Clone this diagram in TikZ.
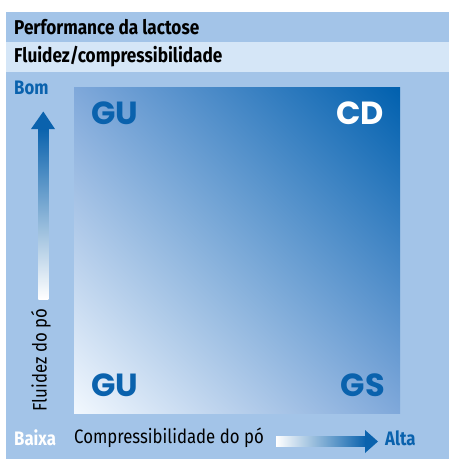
\documentclass[tikz,border=0pt]{standalone}
\usepackage{fontspec}
\setmainfont{Fira Sans}[FakeStretch=0.86]
\newfontfamily\heavyfont{Poppins}
\usepackage{xcolor}
\usepackage{tikz}
\usetikzlibrary{positioning,shadings}
\definecolor{bandblue}{HTML}{A3C4E8}
\definecolor{paleblue}{HTML}{D5E6F7}
\definecolor{inkblue}{HTML}{0A62AD}
\definecolor{darkblue}{HTML}{0060AE}
\definecolor{midblue}{HTML}{7FA8DA}
\definecolor{whiteblue}{HTML}{F2F8FE}
\tikzset{head/.style={anchor=west,inner sep=0pt,font=\fontsize{20}{23}\selectfont\bfseries},
         axis/.style={inner sep=0pt,font=\fontsize{19.5}{22}\selectfont},
         tag/.style={inner sep=0pt,font=\heavyfont\bfseries\fontsize{32}{34}\selectfont}}

\begin{document}
\begin{tikzpicture}[x=1pt,y=-1pt]
        \useasboundingbox (0,0) rectangle (449,459);
        \fill[white] (0,0) rectangle (449,459);
        \fill[bandblue] (6,12) rectangle (449,459);
        \fill[paleblue] (6,42) rectangle (449,72);
        \shade[upper left=midblue,upper right=darkblue,lower left=whiteblue,lower right=midblue]
              (74,413) rectangle (400,87);

        \node[head] (perf) at (14,27) {Performance da lactose};
        \node[head] (flu) at (14,57) {Fluidez/compressibilidade};

        \node[axis,anchor=west,text=inkblue,font=\fontsize{19.5}{22}\selectfont\bfseries] (bom) at (14,88) {Bom};
        \node[axis,anchor=west,text=white,font=\fontsize{19.5}{22}\selectfont\bfseries] (baixa) at (14,438) {Baixa};
        \node[axis,anchor=west] (comp) at (74,438) {Compressibilidade do pó};
        \node[axis,anchor=west,text=inkblue,font=\fontsize{19.5}{22}\selectfont\bfseries] (alta) at (385,438) {Alta};
        \node[axis,rotate=90] (fdp) at (41,360) {Fluidez do pó};

        \node[tag,text=inkblue,anchor=west] (gu1) at (91,113) {GU};
        \node[tag,text=white,anchor=east] (cd) at (384,113) {CD};
        \node[tag,text=inkblue,anchor=west] (gu2) at (91,385) {GU};
        \node[tag,text=inkblue,anchor=east] (gs) at (385,385) {GS};

        % arrows
        \coordinate (up) at (43.3,111.5);
        \coordinate (right) at (378,441.5);
        \shade[bottom color=white,top color=inkblue] (38.3,299) rectangle (48.3,128);
        \fill[inkblue] (31,129) -- (55,129) -- (up) -- cycle;
        \shade[left color=white,right color=inkblue] (276,436.5) rectangle (366,446.5);
        \fill[inkblue] (365,430) -- (365,453) -- (right) -- cycle;
    \end{tikzpicture}
\end{document}
